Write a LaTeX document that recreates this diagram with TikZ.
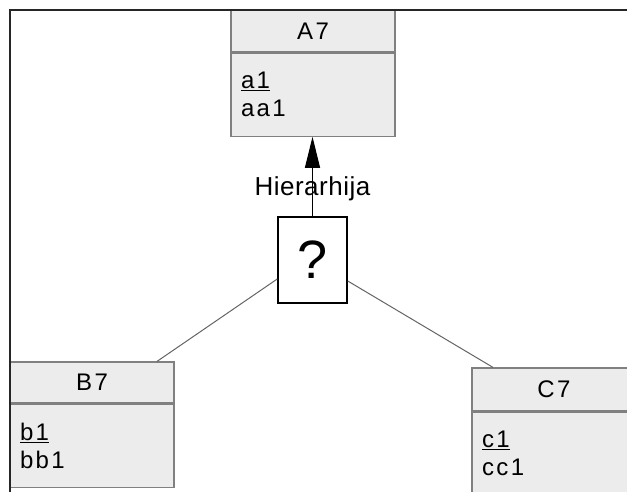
\documentclass[tikz,border=0pt]{standalone}
\usepackage{fontspec}
\setmainfont{Liberation Sans}
\newfontfamily\umlfont[LetterSpace=10]{Liberation Sans}
\newfontfamily\labelfont[LetterSpace=2]{Liberation Sans}
\usetikzlibrary{arrows.meta, positioning}
\definecolor{boxfill}{RGB}{236,236,236}
\definecolor{boxline}{RGB}{128,128,128}
\definecolor{linkgray}{RGB}{100,100,100}

\begin{document}
\begin{tikzpicture}[
    x=1pt, y=-1pt,
    head/.style={rectangle, draw=boxline, fill=boxfill, line width=1.2pt, minimum width=164pt, minimum height=42pt, inner sep=0pt, font=\umlfont\fontsize{24}{28}\selectfont},
    attrs/.style={rectangle, draw=boxline, fill=boxfill, line width=1.2pt, minimum width=164pt, minimum height=83pt, text width=144pt, inner sep=0pt, align=left, font=\umlfont\fontsize{24}{28}\selectfont},
    qbox/.style={rectangle, draw=black, fill=white, line width=1.5pt, minimum width=69pt, minimum height=86pt, inner sep=0pt, font=\fontsize{54}{54}\selectfont},
    link/.style={linkgray, line width=1pt},
    isa/.style={-{Triangle[length=31pt,width=15pt]}, line width=1pt, black}
  ]
  \useasboundingbox (0,0) rectangle (627,492);
  \clip (0,0) rectangle (627,492);

  % entity boxes
  \node[head] (a7) at (313,31) {A7};
  \node[attrs, below=0pt of a7] (a7attr) {\underline{a1}\\aa1};
  \node[head, minimum height=41pt] (b7) at (92,382.5) {B7};
  \node[attrs, below=0pt of b7] (b7attr) {\underline{b1}\\bb1};
  \node[head, minimum height=43pt] (c7) at (554,389.5) {C7};
  \node[attrs, below=0pt of c7] (c7attr) {\underline{c1}\\cc1};

  % hierarchy
  \node[qbox] (q) at (312.5,260) {?};
  \draw[isa] (q.north) -- node[pos=0.35, font=\labelfont\fontsize{26}{30}\selectfont] {Hierarhija} (q.north |- a7attr.south);
  \draw[link] ([yshift=-19pt]q.west) -- ([xshift=65pt]b7.north);
  \draw[link] ([yshift=-21pt]q.east) -- ([xshift=-61pt]c7.north);

  % frame
  \draw[line width=2pt, black!85] (627,10) -- (10,10) -- (10,492);
\end{tikzpicture}
\end{document}
